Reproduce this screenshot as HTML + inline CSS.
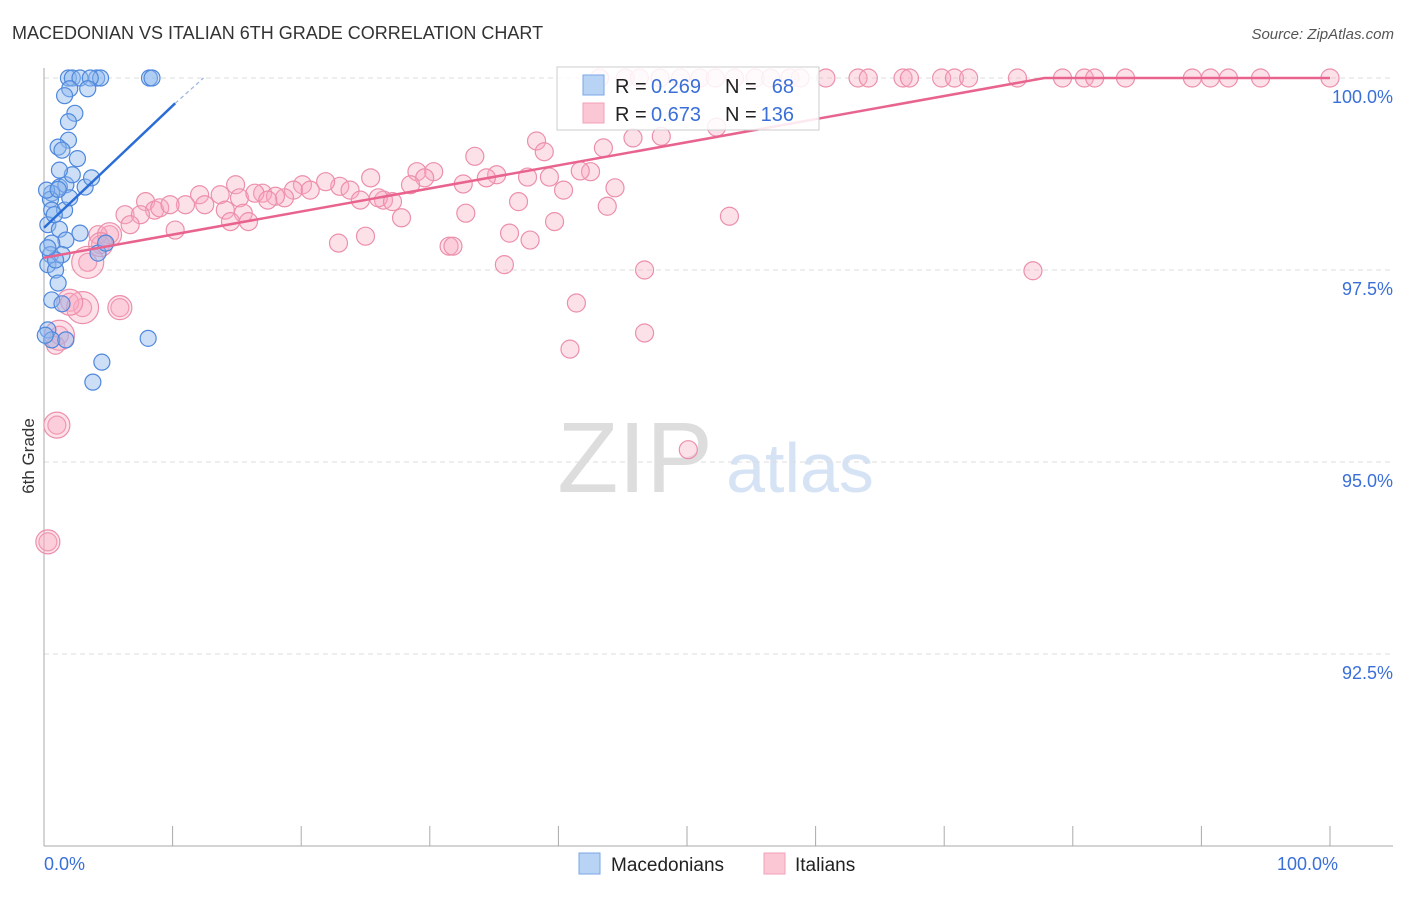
<!DOCTYPE html>
<html><head><meta charset="utf-8"><style>
body{margin:0;background:#fff;font-family:"Liberation Sans",sans-serif}
svg text{font-family:"Liberation Sans",sans-serif}
</style></head><body>
<svg id="c" width="1406" height="892">
<text x="12" y="39" font-size="18" fill="#333">MACEDONIAN VS ITALIAN 6TH GRADE CORRELATION CHART</text>
<text x="1394" y="39" font-size="15" fill="#555" font-style="italic" text-anchor="end">Source: ZipAtlas.com</text>
<text x="34" y="456" font-size="17" fill="#333" transform="rotate(-90 34 456)" text-anchor="middle">6th Grade</text>
<text x="635" y="492" font-size="100" fill="#ddd" text-anchor="middle" font-family="Liberation Serif">ZIP</text>
<text x="800" y="492" font-size="70" fill="#d6e3f5" text-anchor="middle">atlas</text>
<g id="grid"></g><g id="pts"></g><g id="lines"></g>
<g>
<rect x="557" y="67" width="262" height="63" fill="#fff" fill-opacity="0.85" stroke="#ccc"/>
<rect x="583" y="75" width="21" height="20" fill="#b9d3f5" stroke="#7aa6e6"/>
<rect x="583" y="103" width="21" height="20" fill="#fcc7d5" stroke="#f0a0b8"/>
<text x="615" y="93" font-size="20" fill="#222">R =</text>
<text x="651" y="93" font-size="20" fill="#3a6fd8">0.269</text>
<text x="725" y="93" font-size="20" fill="#222">N =</text>
<text x="794" y="93" font-size="20" fill="#3a6fd8" text-anchor="end">68</text>
<text x="615" y="121" font-size="20" fill="#222">R =</text>
<text x="651" y="121" font-size="20" fill="#3a6fd8">0.673</text>
<text x="725" y="121" font-size="20" fill="#222">N =</text>
<text x="794" y="121" font-size="20" fill="#3a6fd8" text-anchor="end">136</text>
</g>
<g>
<rect x="579" y="853" width="21" height="21" fill="#b9d3f5" stroke="#7aa6e6"/>
<text x="611" y="871" font-size="19" fill="#222">Macedonians</text>
<rect x="764" y="853" width="21" height="21" fill="#fcc7d5" stroke="#f0a0b8"/>
<text x="795" y="871" font-size="19" fill="#222">Italians</text>
</g>
</svg>
<script>
const yTicks=[100,97.5,95,92.5];
const yTickLabels=["100.0%","97.5%","95.0%","92.5%"];
const xTickLabels=["0.0%","100.0%"];
const blueX=[1.9,2.2,2.8,4.1,4.4,3.6,8.2,8.4,2.0,3.4,1.6,2.4,1.9,1.9,1.1,2.6,1.4,1.2,0.6,1.7,3.2,3.7,2.2,1.2,0.5,0.6,1.6,2.0,0.3,1.2,2.8,1.7,0.6,0.5,1.4,4.2,4.8,0.3,0.9,1.1,0.6,1.4,0.3,0.6,1.7,8.1,4.5,3.8,0.1,0.9,0.3,0.8,0.2,1.1];
const blueY=[100,100,100,100,100,100,100,100,99.86,99.86,99.77,99.54,99.43,99.19,99.1,98.95,99.06,98.58,98.5,98.61,98.58,98.7,98.74,98.8,98.42,98.28,98.28,98.44,98.09,98.03,97.98,97.89,97.85,97.7,97.7,97.72,97.85,97.57,97.5,97.33,97.11,97.06,96.72,96.59,96.59,96.61,96.3,96.04,96.65,97.63,97.79,98.22,98.54,98.55];
const pinkX=[43.2,45.2,46.3,47.9,49.5,51,52.2,53.7,55.3,56.5,58,58.8,60.8,63.3,64.1,66.8,67.3,69.8,70.8,71.9,75.7,79.2,80.9,81.7,84.1,89.3,90.7,92.1,94.6,100,
52.3,48,45.8,38.3,43.5,38.9,33.5,29,30.3,42.5,41.7,37.6,35.2,34.4,32.6,44.4,39.3,40.4,29.6,28.5,25.4,23,21.9,23.8,20.1,19.4,18.7,17,18,14.9,15.2,13.7,12.1,11,12.5,14.1,15.5,16.4,17.4,20.7,26.4,24.6,26,27.1,27.8,32.8,36.9,43.8,53.3,39.7,7.9,8.6,9,9.8,6.3,7.5,5.1,6.7,4.2,10.2,15.9,14.5,25,22.9,31.5,31.8,36.2,37.8,4.4,3.4,35.8,46.7,76.9,41.4,5.9,3,2,1.2,40.9,46.7,50.1,1,0.3,0.9];
const pinkY=[100,100,100,100,100,100,100,100,100,100,100,100,100,100,100,100,100,100,100,100,100,100,100,100,100,100,100,100,100,100,
99.36,99.24,99.22,99.18,99.09,99.04,98.98,98.78,98.78,98.78,98.79,98.71,98.74,98.7,98.62,98.57,98.71,98.54,98.7,98.61,98.7,98.59,98.65,98.54,98.61,98.54,98.44,98.5,98.46,98.61,98.44,98.48,98.48,98.35,98.35,98.28,98.24,98.5,98.41,98.54,98.41,98.41,98.44,98.39,98.18,98.24,98.39,98.33,98.2,98.13,98.39,98.28,98.31,98.35,98.22,98.22,97.96,98.09,97.96,98.02,98.13,98.13,97.94,97.85,97.81,97.81,97.98,97.89,97.83,97.6,97.57,97.5,97.49,97.07,97.01,97.01,97.08,96.65,96.47,96.68,95.16,95.48,93.96,96.52];
const pinkBig=[[5.1,97.96,12],[4.4,97.83,12],[3.4,97.6,16],[3,97.01,16],[1.2,96.65,15],[1,95.48,13],[0.3,93.96,12],[5.9,97.01,12],[2,97.08,13]];
const blueTrend=[[0,98.05],[10.2,99.67]];
const blueTrendDash=[[10.2,99.67],[12.4,100]];
const pinkTrend=[[0,97.66],[77.8,100],[100,100]];
const NS="http://www.w3.org/2000/svg";
const X=v=>44+v*12.86, Y=v=>78+(100-v)*76.8;
function mk(t,a,p){const e=document.createElementNS(NS,t);for(const k in a)e.setAttribute(k,a[k]);p.appendChild(e);return e;}
const g=document.getElementById('grid');
yTicks.forEach((t,i)=>{
 const l=mk('line',{x1:44,x2:1393,y1:Y(t),y2:Y(t),stroke:'#ddd','stroke-dasharray':'5,4'},g);
 
 
 const tx=mk('text',{x:1393,y:Y(t)+25,'font-size':18,fill:'#3a6fd8','text-anchor':'end'},g);
 tx.textContent=yTickLabels[i];
 
 
});
const ax=mk('line',{x1:44,x2:44,y1:68,y2:846,stroke:'#aaa'},g);


const bx=mk('line',{x1:44,x2:1393,y1:846,y2:846,stroke:'#aaa'},g);


for(let i=0;i<=10;i++){const tk=mk('line',{x1:X(i*10),x2:X(i*10),y1:826,y2:846,stroke:'#aaa'},g);
 
 }
[[0,'start'],[100,'end']].forEach((d,i)=>{const t=mk('text',{x:X(d[0])+(i?8:0),y:870,'font-size':18,fill:'#3a6fd8','text-anchor':d[1]},g);
 t.textContent=xTickLabels[i];
 
 });
const p=document.getElementById('pts');
pinkX.forEach((x,i)=>{const c=mk('circle',{cx:X(x),cy:Y(pinkY[i]),r:9,fill:'#f8a8c0','fill-opacity':0.35,stroke:'#ec8fab','stroke-width':1.2},p);
 
 });
pinkBig.forEach(d=>{const c=mk('circle',{cx:X(d[0]),cy:Y(d[1]),r:d[2],fill:'#f8a8c0','fill-opacity':0.35,stroke:'#ec8fab','stroke-width':1.2},p);
 
 });
blueX.forEach((x,i)=>{const c=mk('circle',{cx:X(x),cy:Y(blueY[i]),r:8,fill:'#8fb8ee','fill-opacity':0.45,stroke:'#4f88dc','stroke-width':1.2},p);
 
 });
const L=document.getElementById('lines');
const pl=(arr,a)=>mk('polyline',Object.assign({points:arr.map(d=>X(d[0])+','+Y(d[1])).join(' '),fill:'none'},a),L);
const b1=pl(blueTrend,{stroke:'#2a6dd6','stroke-width':2.5});


const b2=pl(blueTrendDash,{stroke:'#9bb5dd','stroke-width':1.2,'stroke-dasharray':'4,3'});


const p1=pl(pinkTrend,{stroke:'#e8648e','stroke-width':2.5});


</script>
</body></html>
